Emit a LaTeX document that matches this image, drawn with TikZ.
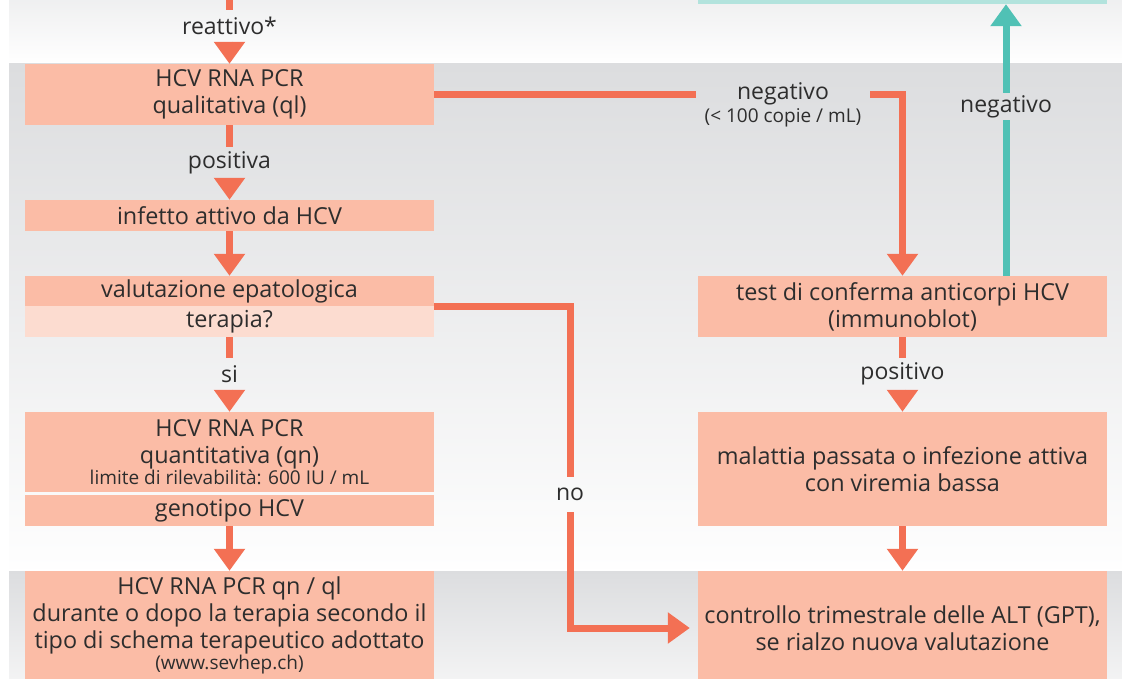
\documentclass[tikz,border=0pt]{standalone}
\usepackage{fontspec}
\setmainfont{Open Sans}
\usetikzlibrary{arrows.meta,calc}
\definecolor{casella}{RGB}{251,188,166}
\definecolor{casellachiara}{RGB}{252,220,208}
\definecolor{linea}{RGB}{243,112,84}
\definecolor{turchese}{RGB}{80,193,181}
\definecolor{turchesechiaro}{RGB}{178,227,221}
\definecolor{sfondo}{RGB}{220,221,223}
\definecolor{testo}{RGB}{45,45,45}
\newcommand{\piccolo}{\fontsize{19}{21}\selectfont}
\begin{document}
\begin{tikzpicture}[x=1pt,y=-1pt,>={Triangle[width=30pt,length=22pt]},
  box/.style={fill=casella,text=testo,minimum width=409pt,inner sep=0pt,align=center,font=\fontsize{23.4}{27}\selectfont},
  etich/.style={text=testo,inner sep=0pt,minimum height=31pt,font=\fontsize{23}{27}\selectfont},
  freccia/.style={draw=linea,line width=7pt},
  frecciat/.style={draw=turchese,line width=7pt}]
\clip (0,0) rectangle (1122,679);
%Sfondo
\shade[top color=sfondo!45,bottom color=white] (9,0) rectangle (1122,64);
\shade[top color=sfondo,bottom color=white!97!sfondo] (9,64) rectangle (1122,568);
\shade[top color=sfondo,bottom color=sfondo!35] (9,571) rectangle (1122,679);
%Colonna 1
\node[box,minimum height=61pt] (ql) at (229.5,94.5) {HCV RNA PCR\\qualitativa (ql)};
\node[box,minimum height=31pt] (attivo) at (229.5,215.5) {infetto attivo da HCV};
\node[box,minimum height=30pt] (valut) at (229.5,291) {valutazione epatologica};
\node[box,fill=casellachiara,minimum height=31pt] (terapia) at (229.5,321.5) {terapia?};
\node[box,minimum height=80pt] (qn) at (229.5,452) {HCV RNA PCR\\quantitativa (qn)\\[-6pt]\piccolo limite di rilevabilità: 600 IU / mL};
\node[box,minimum height=31pt] (genotipo) at (229.5,510.5) {genotipo HCV};
\node[box,minimum height=108pt] (durante) at (229.5,625) {HCV RNA PCR qn / ql\\durante o dopo la terapia secondo il\\tipo di schema terapeutico adottato\\[-6pt]\piccolo (www.sevhep.ch)};
%Colonna 2
\node[fill=turchesechiaro,minimum width=409pt,minimum height=18pt,inner sep=0pt] (esito) at (902.5,-5) {};
\node[box,minimum height=61pt] (test) at (902.5,306.5) {test di conferma anticorpi HCV\\(immunoblot)};
\node[box,minimum height=114pt] (passata) at (902.5,469) {malattia passata o infezione attiva\\con viremia bassa};
\node[box,minimum height=114pt] (trimestr) at (902.5,628) {controllo trimestrale delle ALT (GPT),\\se rialzo nuova valutazione};
%Etichette
\node[etich] (reattivo) at (229.5,26) {reattivo*};
\node[etich] (positiva) at (229.5,162.5) {positiva};
\node[etich] (si) at (229.5,374) {si};
\node[etich,minimum height=35pt] (no) at (570,494.5) {no};
\node[etich,minimum height=27pt] (neg1) at (1006,106.5) {negativo};
\node[etich,inner xsep=8.5pt,align=center] (neg2) at (783,105) {negativo\\[-4pt]\piccolo (< 100 copie / mL)};
\node[etich] (positivo) at (902.5,374) {positivo};
%Frecce colonna 1
\coordinate (inizio) at (229.5,0);
\draw[freccia] (inizio) -- (reattivo.north);
\draw[freccia,->] (reattivo.south) -- (ql.north);
\draw[freccia] (ql.south) -- (positiva.north);
\draw[freccia,->] (positiva.south) -- (attivo.north);
\draw[freccia,->] (attivo.south) -- (valut.north);
\draw[freccia] (terapia.south) -- (si.north);
\draw[freccia,->] (si.south) -- (qn.north);
\draw[freccia,->] (genotipo.south) -- (durante.north);
%Ramo negativo
\draw[freccia] (ql.east) -- (ql.east -| neg2.west);
\draw[freccia,->] (ql.east -| neg2.east) -| (test.north);
%Ramo no
\draw[freccia] (valut.south east) -| (no.north);
\draw[freccia,->] (no.south) |- ($(trimestr.west)+(-8,0)$);
%Frecce colonna 2
\draw[frecciat] (test.north -| neg1) -- (neg1.south);
\draw[frecciat,->] (neg1.north) -- (esito.south -| neg1);
\draw[freccia] (test.south) -- (positivo.north);
\draw[freccia,->] (positivo.south) -- (passata.north);
\draw[freccia,->] (passata.south) -- (trimestr.north);
\end{tikzpicture}
\end{document}
